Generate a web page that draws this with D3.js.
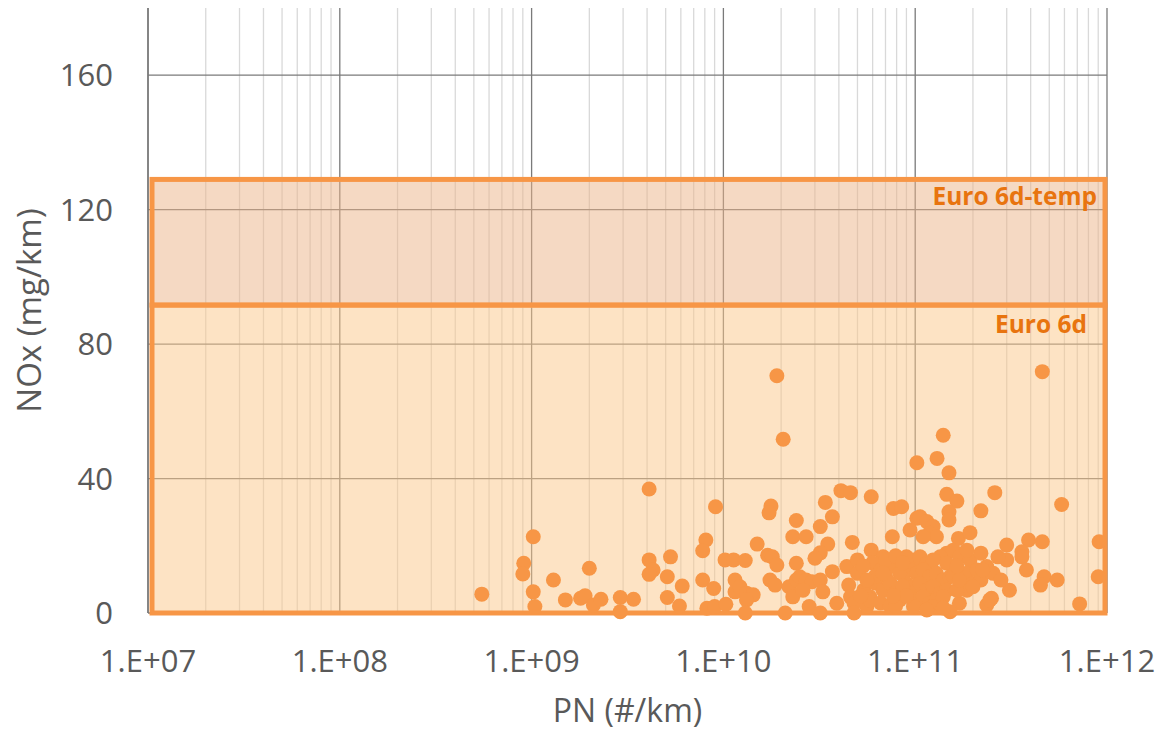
<!DOCTYPE html>
<html>
<head>
<meta charset="utf-8">
<script src="https://cdn.jsdelivr.net/npm/d3@7"></script>
<style>
  body { margin: 0; background: #fff; }
  text { font-family: "Open Sans", sans-serif; fill: #595959; }
  .tick-label { font-size: 31px; }
  .axis-title { font-size: 32px; }
  .euro-label { font-size: 24.5px; font-weight: bold; fill: #e8740f; }
</style>
</head>
<body>
<div id="chart"></div>
<script>
// PN (#/km) and NOx (mg/km) for each vehicle test
var pnValues = [
  5.5e8, 1.02e9, 9.1e8, 9.0e8, 1.02e9, 1.04e9, 1.3e9, 1.5e9, 1.8e9, 1.9e9,
  2.0e9, 2.1e9, 2.3e9, 2.9e9, 2.9e9, 3.4e9, 4.1e9, 4.1e9, 4.3e9, 4.1e9,
  5.3e9, 5.1e9, 5.1e9, 6.1e9, 5.9e9, 9.1e9, 8.1e9, 7.8e9, 7.8e9, 8.9e9,
  1.02e10, 1.13e10, 8.2e9, 9.0e9, 1.03e10, 1.15e10, 1.15e10, 1.77e10, 1.73e10, 2.4e10,
  3.4e10, 3.7e10, 4.1e10, 4.6e10, 5.9e10, 7.7e10, 8.5e10, 1.02e11, 3.2e10, 2.3e10,
  2.7e10, 1.5e10, 3.5e10, 4.7e10, 7.6e10, 9.4e10, 1.7e10, 1.8e10, 1.9e10, 1.3e10,
  2.4e10, 3.2e10, 3.0e10, 3.7e10, 4.4e10, 5.0e10, 5.0e10, 5.9e10, 6.8e10, 1.22e10,
  1.32e10, 1.43e10, 1.32e10, 1.75e10, 1.86e10, 2.2e10, 2.4e10, 2.5e10, 2.7e10, 2.9e10,
  3.2e10, 3.3e10, 2.3e10, 2.6e10, 2.8e10, 4.5e10, 4.6e10, 3.9e10, 4.8e10, 5.4e10,
  5.8e10, 5.6e10, 1.3e10, 2.1e10, 3.2e10, 4.8e10, 1.9e10, 2.05e10, 4.6e11, 1.4e11,
  1.3e11, 1.02e11, 1.5e11, 1.46e11, 1.65e11, 2.6e11, 5.8e11, 2.2e11, 1.5e11, 1.5e11,
  1.06e11, 1.15e11, 1.24e11, 1.19e11, 1.29e11, 1.10e11, 1.68e11, 1.93e11, 3.0e11, 3.9e11,
  4.6e11, 3.6e11, 3.6e11, 3.0e11, 2.7e11, 9.1e11, 9.0e11, 3.8e11, 4.7e11, 4.5e11,
  5.5e11, 7.2e11, 3.1e11, 2.5e11, 2.36e11, 1.7e11, 1.46e11, 1.58e11, 1.35e11, 1.7e11,
  1.93e11, 2.2e11, 2.36e11, 2.55e11, 2.8e11, 1.86e11, 2.0e11, 1.86e11, 2.1e11, 2.2e11,
  2.0e11, 2.25e11, 1.52e11, 2.45e11, 9.0e10, 9.8e10, 1.06e11, 1.15e11, 1.24e11, 1.46e11,
  9.4e10, 1.02e11, 1.10e11, 1.19e11, 1.29e11, 1.4e11, 1.52e11, 9.0e10, 9.8e10, 1.06e11,
  1.15e11, 1.24e11, 1.35e11, 1.46e11, 9.4e10, 1.02e11, 1.10e11, 1.19e11, 1.29e11, 1.4e11,
  9.8e10, 1.24e11, 1.86e11, 6.0e10, 6.6e10, 7.0e10, 7.7e10, 8.3e10, 6.2e10, 6.8e10,
  7.4e10, 7.9e10, 8.6e10, 5.8e10, 6.6e10, 7.4e10, 8.3e10, 7.0e10, 7.9e10, 6.2e10,
  8.6e10, 5.6e10, 5.2e10, 5.35e10, 9.0e10, 7.9e10, 1.15e11, 1.4e11, 1.65e11, 1.58e11,
  1.7e11, 1.65e11, 7.7e10, 6.8e10
];
var noxValues = [
  5.6, 22.7, 14.8, 11.6, 6.3, 1.9, 9.8, 3.9, 4.4, 5.1,
  13.3, 2.4, 4.1, 4.6, 0.4, 4.1, 36.9, 15.8, 12.8, 11.5,
  16.7, 10.8, 4.6, 8.0, 2.1, 31.6, 21.7, 18.5, 9.8, 7.3,
  15.8, 15.8, 1.4, 1.9, 2.6, 9.8, 6.3, 31.8, 29.8, 27.5,
  32.9, 28.6, 36.4, 35.8, 34.6, 31.1, 31.6, 28.2, 25.7, 22.7,
  22.7, 20.5, 20.5, 21.0, 22.7, 24.7, 17.2, 16.7, 14.3, 15.6,
  14.8, 17.9, 16.3, 12.3, 13.8, 15.8, 11.8, 18.7, 16.7, 7.8,
  5.9, 5.4, 3.9, 9.8, 8.3, 7.8, 9.8, 10.8, 9.8, 9.3,
  9.8, 6.3, 4.8, 6.8, 1.9, 8.3, 4.8, 2.9, 2.9, 6.8,
  4.8, 1.9, 0, 0, 0, 0, 70.6, 51.7, 71.8, 52.9,
  46.0, 44.7, 41.7, 35.3, 33.3, 35.8, 32.3, 30.4, 30.1, 27.7,
  28.6, 27.2, 25.7, 23.7, 22.7, 22.7, 22.2, 23.9, 20.2, 21.7,
  21.2, 18.2, 16.7, 15.8, 16.7, 21.2, 10.8, 12.8, 10.8, 8.3,
  9.8, 2.7, 6.8, 4.4, 2.4, 2.9, 17.8, 18.7, 16.7, 16.7,
  15.8, 17.8, 13.8, 11.8, 9.8, 11.8, 8.8, 6.8, 12.8, 9.8,
  7.8, 12.8, 0.4, 3.9, 16.7, 15.8, 16.7, 14.8, 15.8, 14.8,
  12.8, 11.8, 12.8, 10.8, 11.8, 9.8, 10.8, 8.8, 7.8, 8.8,
  6.8, 7.8, 5.9, 6.8, 4.8, 3.9, 4.8, 2.9, 3.9, 4.8,
  1.9, 1.9, 18.7, 14.9, 12.8, 11.0, 14.0, 11.9, 8.9, 6.8,
  8.9, 5.9, 8.0, 3.9, 3.0, 2.1, 3.9, 15.8, 17.0, 11.0,
  14.9, 9.8, 5.1, 14.0, 5.1, 2.1, 0.9, 1.5, 6.8, 11.0,
  9.8, 14.0, 5.1, 11.9
];

// limit bands
var bandNames = ["Euro 6d-temp", "Euro 6d"];
var bandLow = [91.6, 0];
var bandHigh = [129, 91.6];

// axes
var xTicks = [1e7, 1e8, 1e9, 1e10, 1e11, 1e12];
var yTicks = [0, 40, 80, 120, 160];

var width = 1163, height = 732;
var margin = {top: 8, right: 56, bottom: 119, left: 148};

var svg = d3.select("#chart").append("svg")
    .attr("width", width)
    .attr("height", height);

var xScale = d3.scaleLog()
    .domain([1e7, 1e12])
    .range([margin.left, width - margin.right]);
var yScale = d3.scaleLinear()
    .domain([0, 180])
    .range([height - margin.bottom, margin.top]);

var minorTicks = [];
for (var e = 7; e < 12; e++) {
  for (var m = 2; m <= 9; m++) minorTicks.push(m * Math.pow(10, e));
}

// minor vertical gridlines
svg.append("g").selectAll("line")
    .data(minorTicks)
    .enter().append("line")
    .attr("x1", d => xScale(d)).attr("x2", d => xScale(d))
    .attr("y1", yScale(180)).attr("y2", yScale(0))
    .attr("stroke", "#d9d9d9")
    .attr("stroke-width", 1.3);

// major gridlines
svg.append("g").selectAll("line")
    .data(xTicks)
    .enter().append("line")
    .attr("x1", d => xScale(d)).attr("x2", d => xScale(d))
    .attr("y1", yScale(180)).attr("y2", yScale(0))
    .attr("stroke", "#7a7a7a")
    .attr("stroke-width", 1.3);
svg.append("g").selectAll("line")
    .data(yTicks)
    .enter().append("line")
    .attr("x1", xScale(1e7)).attr("x2", xScale(1e12))
    .attr("y1", d => yScale(d)).attr("y2", d => yScale(d))
    .attr("stroke", "#7a7a7a")
    .attr("stroke-width", 1.3);

// limit boxes
var bandFill = ["#ebb387", "#fbc88a"];
var boxes = svg.append("g");
bandNames.forEach(function(name, i) {
  var x0 = xScale(1e7) + 4, x1 = xScale(1e12) - 2;
  boxes.append("rect")
      .attr("x", x0)
      .attr("y", yScale(bandHigh[i]))
      .attr("width", x1 - x0)
      .attr("height", yScale(bandLow[i]) - yScale(bandHigh[i]))
      .attr("fill", bandFill[i])
      .attr("fill-opacity", 0.5)
      .attr("stroke", "#f79646")
      .attr("stroke-width", 5);
});

// band labels
svg.append("text")
    .attr("class", "euro-label")
    .attr("x", xScale(1e12) - 10)
    .attr("y", yScale(bandHigh[0]) + 26)
    .attr("text-anchor", "end")
    .text(bandNames[0]);
svg.append("text")
    .attr("class", "euro-label")
    .attr("x", xScale(1e12) - 20)
    .attr("y", yScale(bandHigh[1]) + 28)
    .attr("text-anchor", "end")
    .text(bandNames[1]);

// left axis line
svg.append("line")
    .attr("x1", xScale(1e7)).attr("x2", xScale(1e7))
    .attr("y1", yScale(180)).attr("y2", yScale(0))
    .attr("stroke", "#7a7a7a")
    .attr("stroke-width", 1.5);

// points
svg.append("g").selectAll("circle")
    .data(d3.range(pnValues.length))
    .enter().append("circle")
    .attr("cx", i => xScale(pnValues[i]))
    .attr("cy", i => yScale(noxValues[i]))
    .attr("r", 7.5)
    .attr("fill", "#f79646");

// tick labels
svg.append("g").selectAll("text")
    .data(yTicks)
    .enter().append("text")
    .attr("class", "tick-label")
    .attr("x", margin.left - 35)
    .attr("y", d => yScale(d))
    .attr("dy", "0.36em")
    .attr("text-anchor", "end")
    .text(d => d);

svg.append("g").selectAll("text")
    .data(xTicks)
    .enter().append("text")
    .attr("class", "tick-label")
    .attr("x", d => xScale(d))
    .attr("y", yScale(0) + 59)
    .attr("text-anchor", "middle")
    .text(d => "1.E+" + String(Math.round(Math.log10(d))).padStart(2, "0"));

// axis titles
svg.append("text")
    .attr("class", "axis-title")
    .attr("x", (xScale(1e7) + xScale(1e12)) / 2)
    .attr("y", height - 10)
    .attr("text-anchor", "middle")
    .text("PN (#/km)");
svg.append("text")
    .attr("class", "axis-title")
    .attr("transform", "translate(41," + ((yScale(0) + yScale(180)) / 2) + ") rotate(-90)")
    .attr("text-anchor", "middle")
    .style("font-size", "33px")
    .text("NOx (mg/km)");
</script>
</body>
</html>
